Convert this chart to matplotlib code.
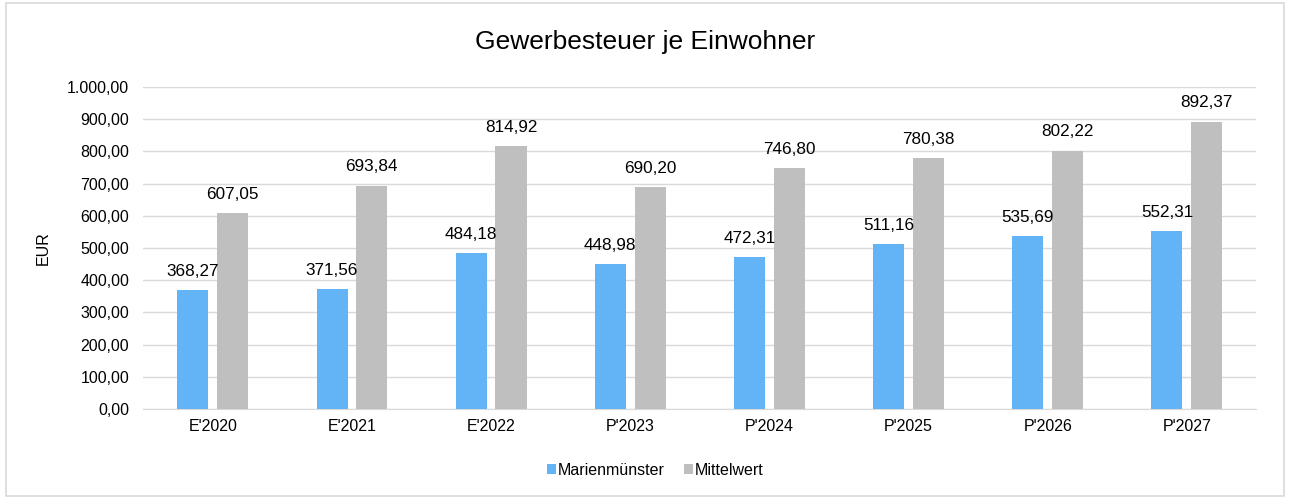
import numpy as np
import matplotlib
matplotlib.use("Agg")
import matplotlib.pyplot as plt
from matplotlib.patches import Rectangle
from matplotlib.ticker import FuncFormatter

plt.rcParams["font.family"] = ["Liberation Sans", "DejaVu Sans"]

categories = ["E'2020", "E'2021", "E'2022", "P'2023", "P'2024", "P'2025", "P'2026", "P'2027"]
marienmuenster = [368.27, 371.56, 484.18, 448.98, 472.31, 511.16, 535.69, 552.31]
mittelwert = [607.05, 693.84, 814.92, 690.20, 746.80, 780.38, 802.22, 892.37]
series_names = ["Marienmünster", "Mittelwert"]

BLUE = "#63B4F6"
GRAY = "#BFBFBF"


def de_fmt(v):
    s = f"{v:,.2f}"
    return s.replace(",", "X").replace(".", ",").replace("X", ".")


fig = plt.figure(figsize=(12.9, 4.99), dpi=100)
ax = fig.add_axes([0.111, 0.180, 0.863, 0.646])

x = np.arange(len(categories))
w = 0.223
off = 0.143
b1 = ax.bar(x - off, marienmuenster, w, color=BLUE, label=series_names[0], zorder=3)
b2 = ax.bar(x + off, mittelwert, w, color=GRAY, label=series_names[1], zorder=3)

for bars, vals in ((b1, marienmuenster), (b2, mittelwert)):
    for r, v in zip(bars, vals):
        ax.annotate(de_fmt(v), (r.get_x() + r.get_width() / 2, v),
                    xytext=(0, 8), textcoords="offset points",
                    ha="center", va="bottom", fontsize=12.3, color="#000000")

ax.set_xlim(-0.5, len(categories) - 0.5)
ax.set_ylim(0, 1000)
ax.set_yticks(np.arange(0, 1001, 100))
ax.yaxis.set_major_formatter(FuncFormatter(lambda v, p: de_fmt(v)))
ax.set_xticks(x)
ax.set_xticklabels(categories)
ax.tick_params(axis="both", length=0, labelsize=11.5, colors="#000000")
ax.tick_params(axis="x", pad=7)
ax.tick_params(axis="y", pad=10)
ax.grid(axis="y", color="#D9D9D9", linewidth=1, zorder=0)
for s in ("top", "right", "left"):
    ax.spines[s].set_visible(False)
ax.spines["bottom"].set_color("#D9D9D9")
ax.set_ylabel("EUR", fontsize=11.5, labelpad=12)

fig.text(0.5, 0.916, "Gewerbesteuer je Einwohner", ha="center", va="center", fontsize=19)

fig.legend(loc="center", bbox_to_anchor=(0.508, 0.058), ncol=2, frameon=False,
           fontsize=11.5, handlelength=0.55, handleheight=0.6, handletextpad=0.15,
           columnspacing=1.2)

fig.patches.append(Rectangle((0.005, 0.006), 0.99, 0.988, transform=fig.transFigure,
                             fill=False, edgecolor="#D9D9D9", linewidth=1.2))

fig.savefig("out.png", dpi=100, facecolor="white")
